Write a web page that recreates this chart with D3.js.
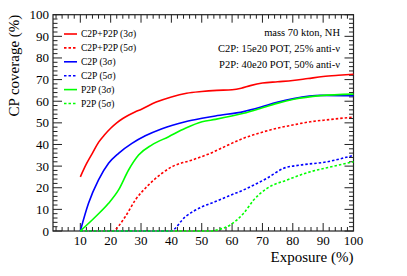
<!DOCTYPE html>
<html>
<head>
<script type="text/javascript" src="https://cdn.jsdelivr.net/npm/d3@7/dist/d3.min.js"></script>
<style>
  body { margin: 0; background: #fff; }
  text { font-family: "Liberation Serif", "DejaVu Serif", serif; fill: #000; }
</style>
</head>
<body>
<div id="chart"></div>
<script>
// exposure (%) values, one array per curve
var c2pp2p3X = [10, 12, 14, 16, 18, 20, 22, 24, 26, 28, 30, 35, 40, 45, 50, 55, 60, 63, 66, 70, 75, 80, 85, 90, 95, 100];
var c2pp2p3Y = [25, 31, 36, 41, 44.5, 47.5, 50, 52, 53.6, 55, 56.2, 59.6, 62, 63.7, 64.5, 65, 65.3, 66, 67.2, 68.4, 69, 69.6, 70.5, 71.4, 72, 72.5];

var c2pp2p5X = [10, 20.4, 24.8, 28.1, 32.5, 36.9, 40.2, 46.8, 52.8, 58, 63.8, 69, 74.8, 80, 85.8, 92, 100];
var c2pp2p5Y = [0, 0, 6.6, 14.3, 21.3, 26.7, 29.7, 32.8, 35.9, 39.3, 42.9, 45.3, 47.5, 49, 50.5, 51.5, 52.7];

var c2p3X = [10, 12.7, 16, 19.3, 22.6, 27, 31.4, 36.9, 44.6, 50.1, 54.5, 63.8, 69.3, 74.8, 80.3, 89.1, 100];
var c2p3Y = [0, 12.8, 23.6, 31.3, 35.9, 40.5, 44, 47.3, 50.5, 52.1, 53.2, 55.2, 57.2, 59.5, 61.2, 62.7, 62.5];

var c2p5X = [10, 39.7, 44.6, 50.1, 54.5, 58.5, 63.8, 67.5, 71.5, 77, 82.6, 91.3, 100];
var c2p5Y = [0, 0, 6.6, 11.2, 13.6, 16, 19, 21.5, 24.4, 29, 30.5, 32, 35];

var p2p3X = [10, 15, 19.3, 22.6, 25.9, 29.2, 33.6, 39.1, 44.6, 50.1, 54.5, 63.8, 69, 74.8, 80.3, 89.1, 100];
var p2p3Y = [0, 6.6, 12.8, 19, 28.2, 35.1, 39.8, 43.6, 47.5, 50.5, 51.6, 54.4, 56.5, 59, 60.9, 62.6, 63.3];

var p2p5X = [10, 52.8, 56, 59.4, 63.8, 67.1, 71.5, 78.1, 85.8, 92, 100];
var p2p5Y = [0, 0, 0.8, 2.8, 8.2, 14.3, 19.7, 23.6, 27.4, 29.5, 32];

var seriesNames = ['C2P+P2P (3\u03c3)', 'C2P+P2P (5\u03c3)', 'C2P (3\u03c3)', 'C2P (5\u03c3)', 'P2P (3\u03c3)', 'P2P (5\u03c3)'];
var xTicks = [10, 20, 30, 40, 50, 60, 70, 80, 90, 100];
var yTicks = [0, 10, 20, 30, 40, 50, 60, 70, 80, 90, 100];
var infoLines = ['mass 70 kton, NH', 'C2P: 15e20 POT, 25% anti-\u03bd', 'P2P: 40e20 POT, 50% anti-\u03bd'];

(function (d3) {
  'use strict';

  var width = 407, height = 276;
  var left = 53, right = 353.5, top = 14.7, bottom = 231;

  var svg = d3.select('#chart').append('svg')
    .attr('width', width)
    .attr('height', height);

  var x = d3.scaleLinear().domain([1, 100]).range([left, right]);
  var y = d3.scaleLinear().domain([0, 100]).range([bottom, top]);

  var dotted = '2.5,2';
  var series = [
    { name: seriesNames[0], xs: c2pp2p3X, ys: c2pp2p3Y, color: '#ff0000', dash: null },
    { name: seriesNames[1], xs: c2pp2p5X, ys: c2pp2p5Y, color: '#ff0000', dash: dotted },
    { name: seriesNames[2], xs: c2p3X, ys: c2p3Y, color: '#0000ff', dash: null },
    { name: seriesNames[3], xs: c2p5X, ys: c2p5Y, color: '#0000ff', dash: dotted },
    { name: seriesNames[4], xs: p2p3X, ys: p2p3Y, color: '#00ff00', dash: null },
    { name: seriesNames[5], xs: p2p5X, ys: p2p5Y, color: '#00ff00', dash: dotted }
  ];

  // frame ticks, ROOT style: ticks inside on all four sides
  var axisColor = '#222';
  var minorX = d3.range(2, 100.01, 2);
  var minorY = d3.range(0, 100.01, 2);

  var ticksG = svg.append('g').attr('stroke', axisColor).attr('stroke-width', 1);

  minorX.forEach(function (v) {
    var major = v % 10 === 0;
    var len = major ? 8 : 4;
    ticksG.append('line').attr('x1', x(v)).attr('x2', x(v)).attr('y1', bottom).attr('y2', bottom - len);
    ticksG.append('line').attr('x1', x(v)).attr('x2', x(v)).attr('y1', top).attr('y2', top + len);
  });
  minorY.forEach(function (v) {
    var major = v % 10 === 0;
    var len = major ? 9 : 4.5;
    ticksG.append('line').attr('y1', y(v)).attr('y2', y(v)).attr('x1', left).attr('x2', left + len);
    ticksG.append('line').attr('y1', y(v)).attr('y2', y(v)).attr('x1', right).attr('x2', right - len);
  });

  svg.append('rect')
    .attr('x', left).attr('y', top)
    .attr('width', right - left).attr('height', bottom - top)
    .attr('fill', 'none').attr('stroke', axisColor).attr('stroke-width', 1.2);

  // tick labels
  svg.append('g').selectAll('text').data(xTicks).enter().append('text')
    .attr('x', function (d) { return x(d); })
    .attr('y', bottom + 14)
    .attr('text-anchor', 'middle')
    .style('font-size', '13px')
    .text(function (d) { return d; });

  svg.append('g').selectAll('text').data(yTicks).enter().append('text')
    .attr('x', left - 4)
    .attr('y', function (d) { return y(d) + 4.5; })
    .attr('text-anchor', 'end')
    .style('font-size', '13px')
    .text(function (d) { return d; });

  // axis titles
  svg.append('text')
    .attr('x', right).attr('y', 262)
    .attr('text-anchor', 'end')
    .style('font-size', '15px')
    .text('Exposure (%)');

  svg.append('text')
    .attr('transform', 'translate(19,' + top + ') rotate(-90)')
    .attr('text-anchor', 'end')
    .style('font-size', '15px')
    .text('CP coverage (%)');

  // curves
  var line = d3.line()
    .x(function (d) { return x(d[0]); })
    .y(function (d) { return y(d[1]); })
    .curve(d3.curveMonotoneX);

  series.forEach(function (s) {
    svg.append('path')
      .datum(d3.zip(s.xs, s.ys))
      .attr('d', line)
      .attr('fill', 'none')
      .attr('stroke', s.color)
      .attr('stroke-width', 1.6)
      .attr('stroke-dasharray', s.dash);
  });

  // legend
  var legend = svg.selectAll('.legend').data(series).enter().append('g')
    .attr('class', 'legend')
    .attr('transform', function (d, i) { return 'translate(64,' + (34 + i * 13.9) + ')'; });

  legend.append('line')
    .attr('x1', 0).attr('x2', 13)
    .attr('stroke', function (d) { return d.color; })
    .attr('stroke-width', 1.6)
    .attr('stroke-dasharray', function (d) { return d.dash; });

  legend.append('text')
    .attr('x', 17).attr('y', 3.3)
    .style('font-size', '9.5px')
    .text(function (d) { return d.name; });

  // info text
  svg.selectAll('.info').data(infoLines).enter().append('text')
    .attr('class', 'info')
    .attr('x', 340)
    .attr('y', function (d, i) { return 36 + i * 15.8; })
    .attr('text-anchor', 'end')
    .style('font-size', '10.5px')
    .text(function (d) { return d; });

})(window.d3);
</script>
</body>
</html>
